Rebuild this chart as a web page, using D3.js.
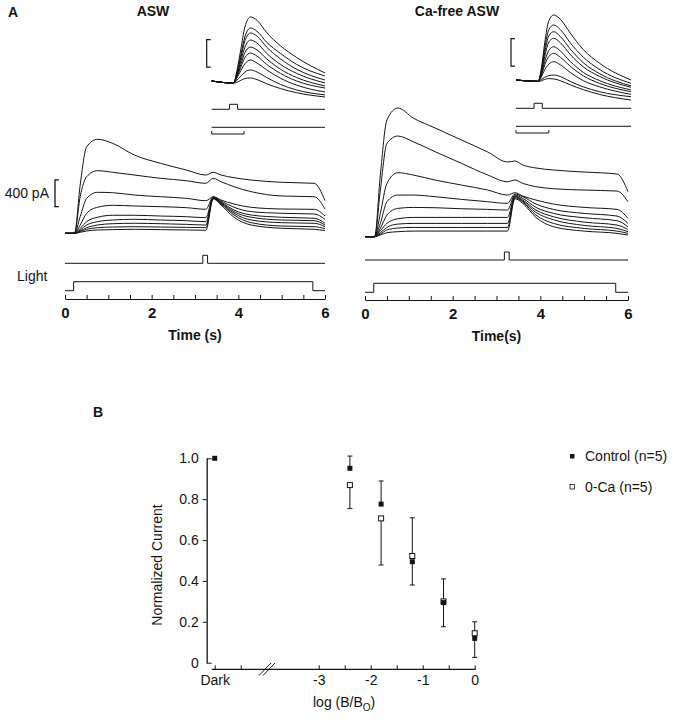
<!DOCTYPE html>
<html>
<head>
<meta charset="utf-8">
<script src="https://d3js.org/d3.v7.min.js"></script>
<style>
	body { margin: 0; background: #fff; }
	svg text { font-family: "Liberation Sans", Arial, Helvetica, sans-serif; fill: #141414; }
</style>
</head>
<body>
<div id="chart"></div>
<script>
// sample times (s) of the whole-cell current traces
var T_MAIN = [0, 0.22, 0.35, 0.5, 0.75, 1.1, 1.6, 2.2, 2.8, 3.25, 3.42, 3.6, 3.9, 4.3, 5.0, 5.75, 6.0];

// ASW, current in pA, one row per step intensity
var ASW_TRACES = [
	[0, 0, 723, 1297, 1408, 1348, 1173, 1049, 948, 873, 914, 873, 833, 798, 764, 749, 488],
	[0, 0, 548, 848, 938, 914, 873, 824, 788, 749, 824, 773, 698, 623, 559, 548, 364],
	[0, 0, 249, 524, 614, 608, 574, 548, 524, 488, 548, 499, 439, 389, 364, 359, 259],
	[0, 0, 124, 300, 390, 419, 409, 399, 384, 360, 544, 484, 390, 324, 300, 289, 210],
	[0, 0, 75, 174, 240, 270, 270, 259, 249, 234, 539, 469, 349, 274, 240, 225, 150],
	[0, 0, 50, 124, 174, 199, 210, 199, 189, 174, 534, 459, 324, 240, 199, 189, 124],
	[0, 0, 34, 84, 124, 144, 150, 144, 134, 124, 529, 449, 300, 199, 159, 150, 99],
	[0, 0, 25, 60, 84, 94, 99, 94, 89, 84, 524, 439, 274, 159, 109, 99, 69],
	[0, 0, 15, 35, 50, 55, 60, 55, 50, 45, 514, 424, 240, 124, 75, 60, 40]
];

// Ca-free ASW
var CA_FREE_TRACES = [
	[0, 0, 924, 1748, 1928, 1778, 1628, 1449, 1269, 1119, 1134, 1074, 1029, 999, 969, 939, 674],
	[0, 0, 699, 1398, 1508, 1423, 1273, 1099, 924, 824, 849, 799, 749, 719, 699, 684, 524],
	[0, 0, 349, 799, 959, 924, 849, 774, 699, 624, 659, 609, 549, 489, 439, 409, 274],
	[0, 0, 199, 524, 624, 624, 599, 559, 524, 499, 639, 599, 489, 409, 349, 309, 199],
	[0, 0, 124, 324, 424, 439, 434, 419, 409, 399, 624, 574, 439, 349, 284, 239, 149],
	[0, 0, 90, 199, 269, 289, 289, 289, 289, 289, 609, 549, 399, 299, 219, 174, 109],
	[0, 0, 60, 139, 189, 199, 199, 199, 199, 199, 599, 534, 364, 254, 169, 124, 75],
	[0, 0, 40, 100, 130, 139, 139, 139, 139, 139, 584, 519, 324, 199, 124, 84, 50],
	[0, 0, 25, 60, 75, 84, 84, 84, 84, 84, 569, 499, 289, 149, 84, 50, 25]
];

// flash responses on an expanded time base (insets)
var T_INSET_ASW = [0, 0.27, 0.31, 0.36, 0.41, 0.48, 0.56, 0.68, 0.85, 1.05, 1.4];
var ASW_INSET = [
	[0, -15, 70, 230, 390, 464, 440, 350, 255, 170, 58],
	[0, -15, 55, 190, 320, 384, 360, 280, 200, 120, 36],
	[0, -15, 50, 170, 290, 348, 325, 245, 160, 85, 7],
	[0, -15, 40, 145, 245, 297, 275, 200, 120, 55, -14],
	[0, -15, 35, 120, 205, 246, 225, 160, 85, 25, -36],
	[0, -15, 28, 100, 170, 203, 180, 120, 55, 0, -51],
	[0, -15, 20, 75, 125, 152, 130, 80, 20, -30, -80],
	[0, -15, 5, 35, 65, 80, 65, 25, -25, -65, -101],
	[0, -15, -10, 5, 18, 22, 10, -20, -55, -85, -116]
];
var T_INSET_CA = [0, 0.27, 0.31, 0.35, 0.40, 0.46, 0.54, 0.66, 0.82, 1.02, 1.4];
var CA_FREE_INSET = [
	[0, -10, 90, 270, 430, 471, 440, 340, 220, 120, 0],
	[0, -10, 75, 230, 365, 399, 365, 270, 165, 75, -24],
	[0, -10, 65, 200, 320, 350, 315, 225, 125, 45, -43],
	[0, -10, 55, 170, 275, 302, 270, 185, 95, 25, -53],
	[0, -10, 45, 135, 215, 241, 210, 135, 55, -5, -72],
	[0, -10, 35, 110, 170, 193, 165, 100, 30, -25, -85],
	[0, -10, 25, 75, 115, 133, 110, 55, -5, -50, -104],
	[0, -10, 5, 20, 32, 36, 25, -10, -50, -85, -121],
	[0, -10, -5, 5, 10, 8, -5, -35, -70, -105, -145]
];

// stimulus timing (s)
var LIGHT_STEP = [0.2, 5.72];
var FLASH = [3.18, 3.29];
var INSET_FLASH = [0.22, 0.32];
var INSET_DURATION = 1.4;
var TIME_TICKS = [0, 0.5, 1, 1.5, 2, 2.5, 3, 3.5, 4, 4.5, 5, 5.5, 6];

// panel B
var LOG_INTENSITY = [-5, -2.4, -1.8, -1.2, -0.6, 0];   // -5 = dark
var CONTROL_MEAN = [1.0, 0.951, 0.776, 0.494, 0.294, 0.119];
var CONTROL_SEM = [0, 0.06, 0.113, 0.114, 0.118, 0.093];
var CA0_MEAN = [1.0, 0.869, 0.706, 0.522, 0.30, 0.144];
var CA0_SEM = [0, 0.115, 0.228, 0.187, 0.11, 0.056];
var B_Y_TICKS = [0, 0.2, 0.4, 0.6, 0.8, 1.0];
var B_X_TICKS = [-5, -4.5, -3, -2.5, -2, -1.5, -1, -0.5, 0];

(function() {
	var width = 686,
		height = 720,
		ink = "#141414";

	var svg = d3.select("#chart")
		.append("svg")
		.attr("width", width)
		.attr("height", height);

	svg.append("text").attr("x", 8).attr("y", 17)
		.style("font-size", "14px").style("font-weight", "bold").text("A");

	function drawPanel(cfg) {
		var g = svg.append("g");

		var x = d3.scaleLinear().domain([0, 6]).range(cfg.xRange);
		var y = d3.scaleLinear().domain([0, 400]).range([cfg.base, cfg.base - 26.7]);

		var line = d3.line()
			.x(function(d) { return x(d[0]); })
			.y(function(d) { return y(d[1]); })
			.curve(d3.curveMonotoneX);

		g.selectAll(".trace")
			.data(cfg.traces)
			.enter().append("path")
			.attr("class", "trace")
			.attr("d", function(row) {
				return line(row.map(function(v, i) { return [T_MAIN[i], v]; }));
			})
			.attr("fill", "none")
			.attr("stroke", ink)
			.attr("stroke-width", 1);

		// stimulus monitors
		var step = d3.line()
			.x(function(d) { return x(d[0]); })
			.y(function(d) { return d[1]; })
			.curve(d3.curveStepAfter);

		g.append("path")
			.attr("d", step([[0, cfg.flashY], [FLASH[0], cfg.flashY - 8], [FLASH[1], cfg.flashY], [6, cfg.flashY]]))
			.attr("fill", "none").attr("stroke", ink).attr("stroke-width", 1);

		g.append("path")
			.attr("d", step([[0, cfg.lightY], [LIGHT_STEP[0], cfg.lightY - 9], [LIGHT_STEP[1], cfg.lightY], [6, cfg.lightY]]))
			.attr("fill", "none").attr("stroke", ink).attr("stroke-width", 1);

		// time axis
		var axis = d3.axisBottom(x)
			.tickValues(TIME_TICKS)
			.tickSize(-4)
			.tickSizeOuter(0)
			.tickPadding(8)
			.tickFormat(function(d) { return d % 2 === 0 ? d : ""; });

		var ax = g.append("g")
			.attr("transform", "translate(0," + cfg.axisY + ")")
			.call(axis);
		ax.select(".domain").attr("stroke", ink);
		ax.selectAll(".tick line").attr("stroke", ink);
		ax.selectAll(".tick text")
			.style("font-size", "15px")
			.style("font-weight", "bold")
			.style("font-family", "'Liberation Sans', Arial, sans-serif")
			.attr("fill", ink);

		g.append("text")
			.attr("x", (cfg.xRange[0] + cfg.xRange[1]) / 2)
			.attr("y", cfg.axisY + 41)
			.attr("text-anchor", "middle")
			.style("font-size", "14px").style("font-weight", "bold")
			.text(cfg.xLabel);

		g.append("text")
			.attr("x", cfg.titleX).attr("y", 16)
			.attr("text-anchor", "middle")
			.style("font-size", "14px").style("font-weight", "bold")
			.text(cfg.title);

		// inset: flash responses on an expanded time scale
		var xi = d3.scaleLinear().domain([0, INSET_DURATION]).range(cfg.insetX);
		var yi = d3.scaleLinear().domain([0, 200]).range([cfg.insetBase, cfg.insetBase - 27.6]);

		var iline = d3.line()
			.x(function(d) { return xi(d[0]); })
			.y(function(d) { return yi(d[1]); })
			.curve(d3.curveMonotoneX);

		g.selectAll(".inset")
			.data(cfg.insetTraces)
			.enter().append("path")
			.attr("class", "inset")
			.attr("d", function(row) {
				return iline(row.map(function(v, i) { return [cfg.insetT[i], v]; }));
			})
			.attr("fill", "none")
			.attr("stroke", ink)
			.attr("stroke-width", 1);

		var istep = d3.line()
			.x(function(d) { return xi(d[0]); })
			.y(function(d) { return d[1]; })
			.curve(d3.curveStepAfter);

		var fy = cfg.insetBase + 28.3;
		g.append("path")
			.attr("d", istep([[0, fy], [INSET_FLASH[0], fy - 5], [INSET_FLASH[1], fy], [INSET_DURATION, fy]]))
			.attr("fill", "none").attr("stroke", ink).attr("stroke-width", 1);

		var ly = cfg.insetBase + 46.3;
		g.append("path")
			.attr("d", istep([[0, ly], [INSET_DURATION, ly]]))
			.attr("fill", "none").attr("stroke", ink).attr("stroke-width", 1);

		// inset time bar (0.4 s)
		var by = ly + 6.7;
		g.append("path")
			.attr("d", "M" + xi(0) + "," + (by - 3) + "V" + by + "H" + xi(0.4) + "V" + (by - 3))
			.attr("fill", "none").attr("stroke", ink).attr("stroke-width", 1);

		// inset current bar
		var bx = xi(0) - 5;
		g.append("path")
			.attr("d", "M" + (bx + 4) + "," + yi(300) + "H" + bx + "V" + yi(100) + "H" + (bx + 4))
			.attr("fill", "none").attr("stroke", ink).attr("stroke-width", 1.2);

		return { x: x, y: y, g: g };
	}

	var left = drawPanel({
		traces: ASW_TRACES, xRange: [65, 325], base: 233.3,
		flashY: 263.3, lightY: 290.7, axisY: 299,
		xLabel: "Time (s)", title: "ASW", titleX: 153,
		insetTraces: ASW_INSET, insetT: T_INSET_ASW, insetX: [211.7, 325], insetBase: 81
	});

	drawPanel({
		traces: CA_FREE_TRACES, xRange: [365, 628], base: 236.7,
		flashY: 260, lightY: 292.3, axisY: 300,
		xLabel: "Time(s)", title: "Ca-free ASW", titleX: 457,
		insetTraces: CA_FREE_INSET, insetT: T_INSET_CA, insetX: [516, 631], insetBase: 80
	});

	// 400 pA scale bar
	var sy = left.y;
	svg.append("path")
		.attr("d", "M59," + sy(800) + "H55V" + sy(400) + "H59")
		.attr("fill", "none").attr("stroke", ink).attr("stroke-width", 1.3);
	svg.append("text").attr("x", 49).attr("y", (sy(800) + sy(400)) / 2 + 5)
		.attr("text-anchor", "end").style("font-size", "14px").text("400 pA");

	svg.append("text").attr("x", 17).attr("y", 281)
		.style("font-size", "14px").text("Light");

	// ---------- panel B ----------
	svg.append("text").attr("x", 93).attr("y", 417)
		.style("font-size", "14px").style("font-weight", "bold").text("B");

	var bx = d3.scaleLinear().domain([-5, 0]).range([214.7, 474.7]);
	var by = d3.scaleLinear().domain([0, 1]).range([662.7, 458.3]);

	var yAxis = d3.axisLeft(by)
		.tickValues(B_Y_TICKS)
		.tickSize(4)
		.tickSizeOuter(0)
		.tickPadding(4)
		.tickFormat(function(d) { return d === 0 ? "0" : d3.format(".1f")(d); });

	var ya = svg.append("g").attr("transform", "translate(206.7,0)").call(yAxis);
	ya.select(".domain").attr("stroke", ink).attr("stroke-width", 1.3);
	ya.selectAll(".tick line").attr("stroke", ink)
		.attr("x2", function(d) { return (d === 0 || d === 1) ? 5 : -4; });
	ya.selectAll(".tick text")
		.style("font-size", "14px")
		.style("font-family", "'Liberation Sans', Arial, sans-serif")
		.attr("fill", ink);

	var xAxis = d3.axisBottom(bx)
		.tickValues(B_X_TICKS)
		.tickSize(-4)
		.tickSizeOuter(0)
		.tickPadding(6)
		.tickFormat(function(d) {
			if (d === -5) return "Dark";
			return Number.isInteger(d) ? d : "";
		});

	var xa = svg.append("g").attr("transform", "translate(0,669.3)").call(xAxis);
	xa.select(".domain").attr("stroke", ink).attr("stroke-width", 1.3)
		.attr("d", "M211.7,0H475.7");
	xa.selectAll(".tick line").attr("stroke", ink);
	xa.selectAll(".tick text")
		.style("font-size", "14px")
		.style("font-family", "'Liberation Sans', Arial, sans-serif")
		.attr("fill", ink);

	// axis break
	[0, 4].forEach(function(off) {
		svg.append("line")
			.attr("x1", 259 + off).attr("y1", 675.5)
			.attr("x2", 271 + off).attr("y2", 663)
			.attr("stroke", ink).attr("stroke-width", 1);
	});

	svg.append("text")
		.attr("transform", "translate(161.5,565) rotate(-90)")
		.attr("text-anchor", "middle")
		.style("font-size", "14px")
		.text("Normalized Current");

	var lab = svg.append("text").attr("x", 313).attr("y", 707).style("font-size", "14px");
	lab.append("tspan").text("log (B/B");
	lab.append("tspan").attr("dy", 4).style("font-size", "10px").text("O");
	lab.append("tspan").attr("dy", -4).text(")");

	var points = LOG_INTENSITY.map(function(v, i) {
		return { x: v, c: CONTROL_MEAN[i], cs: CONTROL_SEM[i], o: CA0_MEAN[i], os: CA0_SEM[i] };
	});

	// one-sided error bars, each pointing away from the other group
	var bars = [];
	points.forEach(function(p) {
		var cUp = p.c >= p.o;
		if (p.cs > 0) bars.push({ x: p.x, from: p.c, to: cUp ? p.c + p.cs : p.c - p.cs });
		if (p.os > 0) bars.push({ x: p.x, from: p.o, to: cUp ? p.o - p.os : p.o + p.os });
	});

	svg.selectAll(".err")
		.data(bars)
		.enter().append("path")
		.attr("class", "err")
		.attr("d", function(d) {
			var px = bx(d.x), py = by(d.to);
			return "M" + px + "," + by(d.from) + "V" + py + "M" + (px - 2.5) + "," + py + "H" + (px + 2.5);
		})
		.attr("fill", "none").attr("stroke", ink).attr("stroke-width", 1);

	svg.selectAll(".ca0")
		.data(points.filter(function(p) { return p.x !== -5; }))
		.enter().append("rect")
		.attr("class", "ca0")
		.attr("x", function(d) { return bx(d.x) - 2.5; })
		.attr("y", function(d) { return by(d.o) - 2.5; })
		.attr("width", 5).attr("height", 5)
		.attr("fill", "#fff").attr("stroke", ink).attr("stroke-width", 1);

	svg.selectAll(".ctrl")
		.data(points)
		.enter().append("rect")
		.attr("class", "ctrl")
		.attr("x", function(d) { return bx(d.x) - 2.5; })
		.attr("y", function(d) { return by(d.c) - 2.5; })
		.attr("width", 5).attr("height", 5)
		.attr("fill", ink);

	// legend
	var legend = [
		{ label: "Control (n=5)", filled: true },
		{ label: "0-Ca (n=5)", filled: false }
	];
	var lg = svg.selectAll(".legend")
		.data(legend)
		.enter().append("g")
		.attr("class", "legend")
		.attr("transform", function(d, i) { return "translate(572," + (456 + i * 30.5) + ")"; });
	lg.append("rect")
		.attr("x", -2).attr("y", -2)
		.attr("width", 4.5).attr("height", 4.5)
		.attr("fill", function(d) { return d.filled ? ink : "#fff"; })
		.attr("stroke", ink).attr("stroke-width", function(d) { return d.filled ? 0 : 0.8; });
	lg.append("text")
		.attr("x", 13).attr("y", 5)
		.style("font-size", "14px")
		.text(function(d) { return d.label; });
})();
</script>
</body>
</html>
